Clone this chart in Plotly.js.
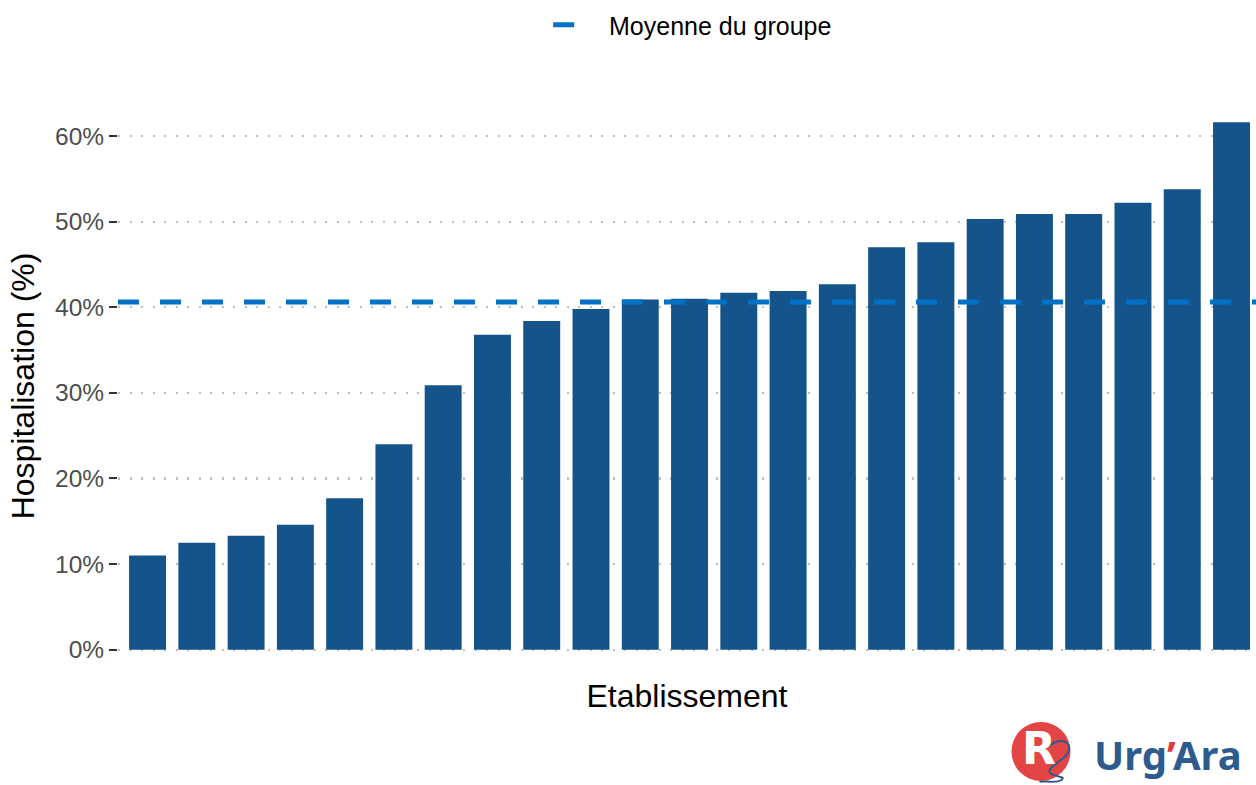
<!DOCTYPE html>
<html>
<head>
<meta charset="utf-8">
<script src="https://cdn.plot.ly/plotly-3.0.1.min.js"></script>
<style>html,body{margin:0;padding:0;background:#fff;}#chart{width:1256px;height:785px;}</style>
</head>
<body>
<div id="chart"></div>
<script>
// Establishments (anonymous, sorted by hospitalisation rate)
const categories = ["E01","E02","E03","E04","E05","E06","E07","E08","E09","E10","E11","E12",
                    "E13","E14","E15","E16","E17","E18","E19","E20","E21","E22","E23"];
// Hospitalisation rate (%)
const hospRate = [11.0, 12.5, 13.3, 14.6, 17.7, 24.0, 30.9, 36.8, 38.4, 39.8, 40.9, 41.0,
                  41.7, 41.9, 42.7, 47.0, 47.6, 50.3, 50.9, 50.9, 52.2, 53.8, 61.6];
// Group mean (%)
const groupMean = 40.6;
const yTicks = [0, 10, 20, 30, 40, 50, 60];
const yTickText = ["0%", "10%", "20%", "30%", "40%", "50%", "60%"];
const legendLabel = "Moyenne du groupe";
const xTitle = "Etablissement";
const yTitle = "Hospitalisation (%)";

const font = "Liberation Sans, Arial, sans-serif";

const bars = {
  type: "bar",
  x: categories,
  y: hospRate,
  marker: {color: "#14548a"},
  width: 0.75,
  showlegend: false,
  hoverinfo: "x+y"
};

const meanLine = {
  type: "scatter",
  mode: "lines",
  xaxis: "x2",
  x: [0, 1],
  y: [groupMean, groupMean],
  name: "\u00a0\u00a0\u00a0" + legendLabel,
  line: {color: "#0071c5", width: 5, dash: "21px,21px"},
  showlegend: true
};

const layout = {
  width: 1256,
  height: 785,
  paper_bgcolor: "#ffffff",
  plot_bgcolor: "#ffffff",
  margin: {l: 118, r: 0, t: 96, b: 109},
  font: {family: font, color: "#000"},
  bargap: 0.25,
  xaxis: {
    type: "category",
    range: [-0.6, categories.length - 0.503],
    showticklabels: false,
    ticks: "",
    showgrid: false,
    zeroline: false,
    showline: false,
    title: {text: xTitle, font: {size: 32, color: "#000", family: font}, standoff: 8}
  },
  xaxis2: {
    overlaying: "x",
    range: [0, 1],
    visible: false
  },
  yaxis: {
    range: [-3.08, 64.68],
    tickvals: yTicks,
    ticktext: yTickText,
    tickfont: {size: 24.5, color: "#4d4d4d", family: font},
    ticks: "outside",
    ticklen: 8,
    tickwidth: 2,
    tickcolor: "#333333",
    showgrid: true,
    gridcolor: "#bebebe",
    gridwidth: 2.2,
    griddash: "2.2px,9.3px",
    zeroline: false,
    showline: false,
    title: {text: yTitle, font: {size: 32, color: "#000", family: font}, standoff: 10}
  },
  showlegend: true,
  legend: {
    orientation: "h",
    x: 0.378,
    xanchor: "left",
    y: 1.1224,
    yanchor: "middle",
    font: {size: 25, color: "#000", family: font},
    bgcolor: "rgba(0,0,0,0)"
  },
  shapes: [
    {type: "circle", xref: "paper", yref: "paper", xsizemode: "pixel", ysizemode: "pixel",
     xanchor: 0.8115, yanchor: -0.131, x0: -30, x1: 29, y0: -29, y1: 30,
     fillcolor: "#e23a3a", line: {width: 0}, opacity: 0.95, layer: "above"},
    {type: "path", xref: "paper", yref: "paper", xsizemode: "pixel", ysizemode: "pixel",
     xanchor: 0.8115, yanchor: -0.131,
     path: "M 8 6 C 22 18, 36 6, 22 -6 C 12 -14, 4 -18, 10 -22 C 18 -26, 24 -24, 20 -28 C 14 -32, 2 -28, -2 -30",
     line: {color: "#2d5b8e", width: 2}, layer: "above"}
  ],
  annotations: [
    {text: "<b>R</b>", xref: "paper", yref: "paper", x: 0.8095, y: -0.125,
     xanchor: "center", yanchor: "middle", showarrow: false,
     font: {size: 44, color: "#ffffff", family: "DejaVu Sans, sans-serif"}},
    {text: "<b>Urg<span style='color:#e23a3a'>’</span>Ara</b>", xref: "paper", yref: "paper",
     x: 0.857, y: -0.136, xanchor: "left", yanchor: "middle", showarrow: false, borderpad: 0,
     font: {size: 40, color: "#2d5b8e", family: "Noto Sans, sans-serif"}}
  ]
};

Plotly.newPlot("chart", [bars, meanLine], layout, {displayModeBar: false, staticPlot: true});
</script>
</body>
</html>
